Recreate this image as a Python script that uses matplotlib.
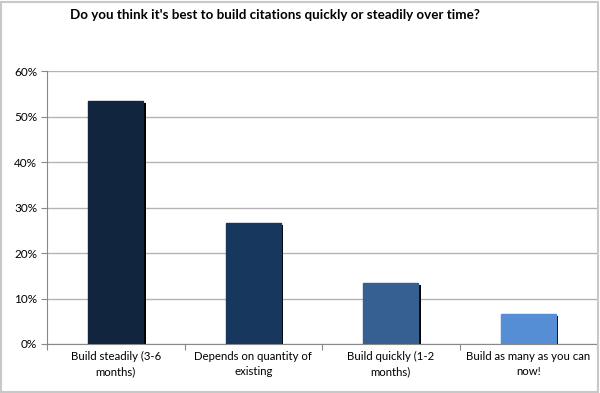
import matplotlib
matplotlib.use("Agg")
import matplotlib.pyplot as plt
from matplotlib.patches import Rectangle
import numpy as np

categories = ["Build steadily (3-6\nmonths)", "Depends on quantity of\nexisting",
              "Build quickly (1-2\nmonths)", "Build as many as you can\nnow!"]
values = [53.3, 26.7, 13.3, 6.7]
colors = ["#11253f", "#17375e", "#366092", "#558ed5"]
yticks = [0, 10, 20, 30, 40, 50, 60]
title = "Do you think it's best to build citations quickly or steadily over time?"

plt.rcParams['font.family'] = ['Lato', 'DejaVu Sans']

fig = plt.figure(figsize=(6, 3.93), dpi=100)
fig.patches.append(Rectangle((0.002, 0.003), 0.994, 0.992, transform=fig.transFigure,
                             fill=False, edgecolor="#c8c8c8", linewidth=1.5))
ax = fig.add_axes([47/600, 1-344/393, 550/600, 273/393])

x = np.arange(len(values))
w = 0.4
# shadows
ax.bar(x + 0.018, values, width=w, color="black", zorder=2,
       transform=ax.transData + matplotlib.transforms.ScaledTranslation(0, -2/100, fig.dpi_scale_trans))
ax.bar(x, values, width=w, color=colors, edgecolor=colors, zorder=3)

ax.set_xlim(-0.5, len(values) - 0.5)
ax.set_ylim(0, 60)
ax.set_yticks(yticks)
ax.set_yticklabels([f"{t}%" for t in yticks], fontsize=8.5)
ax.yaxis.grid(True, color="#b4b4b4", linewidth=1)
ax.set_axisbelow(True)

ax.set_xticks(np.arange(len(values) + 1) - 0.5)
ax.set_xticklabels([])
ax.set_xticks(x, minor=True)
ax.set_xticklabels(categories, minor=True, fontsize=8.2, linespacing=1.45)
ax.tick_params(axis='x', which='minor', length=0, pad=5)
ax.tick_params(axis='x', which='major', length=4, color="#888888")
ax.tick_params(axis='y', length=4, color="#888888", pad=3)

for s in ["top", "right"]:
    ax.spines[s].set_visible(False)
ax.spines["left"].set_color("#888888")
ax.spines["bottom"].set_color("#888888")

fig.text(275/600, 1-15/393, title, ha="center", va="center", fontsize=9.6, fontweight="bold")

fig.savefig("out.png", dpi=100, facecolor="white")
